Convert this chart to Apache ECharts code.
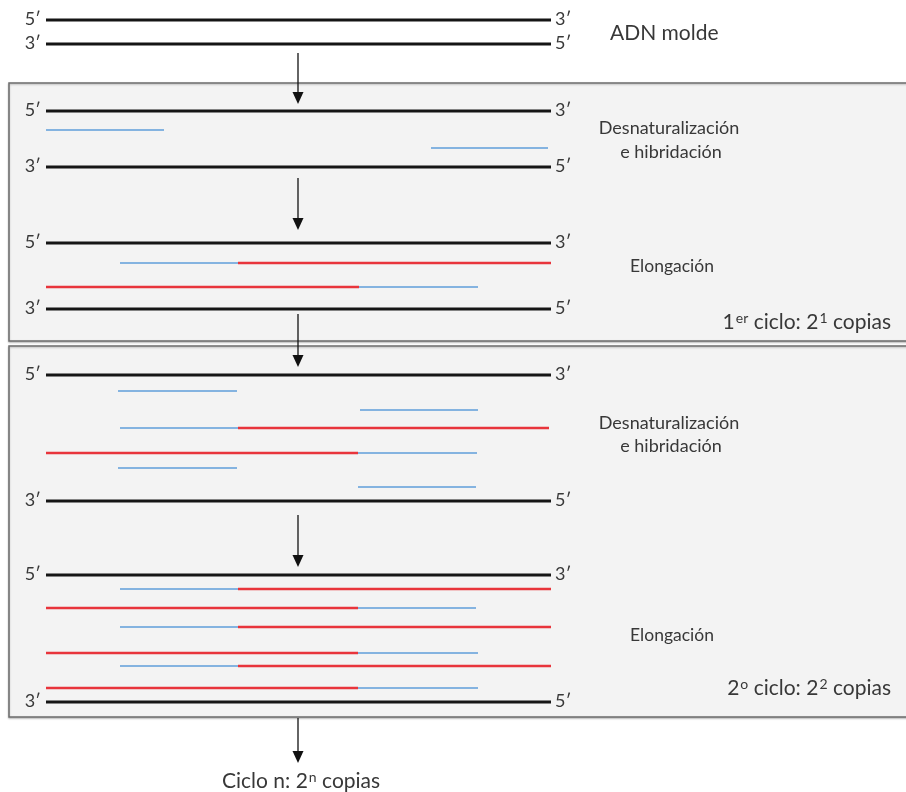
<!DOCTYPE html>
<html><head><meta charset="utf-8">
<script src="https://cdn.jsdelivr.net/npm/echarts@6/dist/echarts.min.js"></script>
<style>html,body{margin:0;padding:0;background:#fff}#c{width:906px;height:792px}</style>
</head><body><div id="c"></div>
<script>
// Panels (x1, y1, x2, y2)
const boxes = [[9, 83, 912, 341], [9, 346, 912, 717]];
// Template DNA strands (x1, x2, y, left end, right end)
const templateStrands = [
  [46, 551, 20, "5′", "3′"], [46, 551, 44, "3′", "5′"],
  [46, 551, 111, "5′", "3′"], [46, 551, 167, "3′", "5′"],
  [46, 551, 243, "5′", "3′"], [46, 551, 309, "3′", "5′"],
  [46, 551, 375, "5′", "3′"], [46, 551, 501, "3′", "5′"],
  [46, 551, 575, "5′", "3′"], [46, 551, 702, "3′", "5′"]
];
// Primers (blue): x1, x2, y
const primers = [
  [46, 164, 130], [431, 548, 148], [120, 238, 263], [359, 478, 287],
  [118, 237, 391], [360, 478, 410], [120, 238, 428], [358, 477, 453], [118, 237, 468], [358, 476, 487],
  [120, 238, 589], [358, 476, 608], [120, 238, 627], [358, 478, 653], [120, 238, 666], [358, 478, 688]
];
// Elongated new strands (red): x1, x2, y
const extensions = [
  [238, 551, 263], [46, 359, 287],
  [238, 549, 428], [46, 358, 453],
  [238, 551, 589], [46, 358, 608], [238, 551, 627], [46, 358, 653], [238, 551, 666], [46, 358, 688]
];
// Arrows: x, yStart, yTip
const arrows = [[298, 53, 104], [298, 178, 230], [298, 314, 367], [298, 515, 567], [298, 718, 763]];
// Text labels: x, y, text, align, fontSize
const labels = [
  [610, 33, "ADN molde", "left", 21],
  [669, 128, "Desnaturalización", "center", 18],
  [671, 152, "e hibridación", "center", 18],
  [672, 266, "Elongación", "center", 17.5],
  [891, 322, "1{s|er} ciclo: 2{s|1} copias", "right", 21],
  [669, 423, "Desnaturalización", "center", 18],
  [671, 446, "e hibridación", "center", 18],
  [672, 635, "Elongación", "center", 17.5],
  [891, 688, "2{s|o} ciclo: 2{s|2} copias", "right", 21],
  [222, 781, "Ciclo n: 2{s|n} copias", "left", 21]
];

const FONT = 'Lato, "Open Sans", sans-serif';
const TXT = '#383838';

function segSeries(name, arr, color, width, z) {
  return {
    name, type: 'custom', z, clip: false, silent: true,
    data: arr.map(d => [d[0], d[1], d[2]]),
    renderItem(params, api) {
      const p1 = api.coord([api.value(0), api.value(2)]);
      const p2 = api.coord([api.value(1), api.value(2)]);
      return { type: 'line', shape: { x1: p1[0], y1: p1[1], x2: p2[0], y2: p2[1] },
        style: { stroke: color, lineWidth: width } };
    }
  };
}

const option = {
  animation: false,
  backgroundColor: '#ffffff',
  grid: { left: 0, right: 0, top: 0, bottom: 0 },
  xAxis: { type: 'value', min: 0, max: 906, show: false },
  yAxis: { type: 'value', min: 0, max: 792, inverse: true, show: false },
  series: [
    {
      name: 'boxes', type: 'custom', z: 1, clip: false, silent: true,
      data: boxes,
      renderItem(params, api) {
        const p1 = api.coord([api.value(0), api.value(1)]);
        const p2 = api.coord([api.value(2), api.value(3)]);
        return { type: 'rect', shape: { x: p1[0], y: p1[1], width: p2[0] - p1[0], height: p2[1] - p1[1] },
          style: { fill: '#f3f3f3', stroke: '#6e6e6e', lineWidth: 1.5,
            shadowColor: 'rgba(0,0,0,0.25)', shadowBlur: 2, shadowOffsetY: 1 } };
      }
    },
    {
      name: 'template', type: 'custom', z: 3, clip: false, silent: true,
      data: templateStrands.map(d => [d[0], d[1], d[2]]),
      renderItem(params, api) {
        const d = templateStrands[params.dataIndex];
        const p1 = api.coord([api.value(0), api.value(2)]);
        const p2 = api.coord([api.value(1), api.value(2)]);
        return { type: 'group', children: [
          { type: 'line', shape: { x1: p1[0], y1: p1[1], x2: p2[0], y2: p2[1] },
            style: { stroke: '#151515', lineWidth: 3 } },
          { type: 'text', style: { text: d[3], x: p1[0] - 5, y: p1[1] - 1, align: 'right', verticalAlign: 'middle',
            font: '18px ' + FONT, fill: TXT } },
          { type: 'text', style: { text: d[4], x: p2[0] + 4, y: p2[1] - 1, align: 'left', verticalAlign: 'middle',
            font: '18px ' + FONT, fill: TXT } }
        ] };
      }
    },
    segSeries('primers', primers, '#84b3e0', 2, 3),
    segSeries('extensions', extensions, '#e8343b', 2.5, 4),
    {
      name: 'arrows', type: 'custom', z: 5, clip: false, silent: true,
      data: arrows,
      renderItem(params, api) {
        const a = api.coord([api.value(0), api.value(1)]);
        const t = api.coord([api.value(0), api.value(2)]);
        const h = 12, w = 5.5;
        return { type: 'group', children: [
          { type: 'line', shape: { x1: a[0], y1: a[1], x2: t[0], y2: t[1] - h + 1 },
            style: { stroke: '#111', lineWidth: 1.3 } },
          { type: 'polygon', shape: { points: [[t[0] - w, t[1] - h], [t[0] + w, t[1] - h], [t[0], t[1]]] },
            style: { fill: '#111' } }
        ] };
      }
    },
    {
      name: 'labels', type: 'custom', z: 6, clip: false, silent: true,
      data: labels.map(d => [d[0], d[1]]),
      renderItem(params, api) {
        const d = labels[params.dataIndex];
        const p = api.coord([api.value(0), api.value(1)]);
        const fs = d[4];
        return { type: 'text', style: {
          text: d[2], x: p[0], y: p[1], align: d[3], verticalAlign: 'middle',
          font: fs + 'px ' + FONT, fill: TXT,
          rich: { s: { fontSize: Math.round(fs * 0.65), fontFamily: FONT, fill: TXT, color: TXT,
            verticalAlign: 'top', lineHeight: Math.round(fs * 0.65), padding: [0, 0, 0, 1] } }
        } };
      }
    }
  ]
};
const chart = echarts.init(document.getElementById('c'), null, { renderer: 'canvas' });
chart.setOption(option);
</script>
</body></html>
